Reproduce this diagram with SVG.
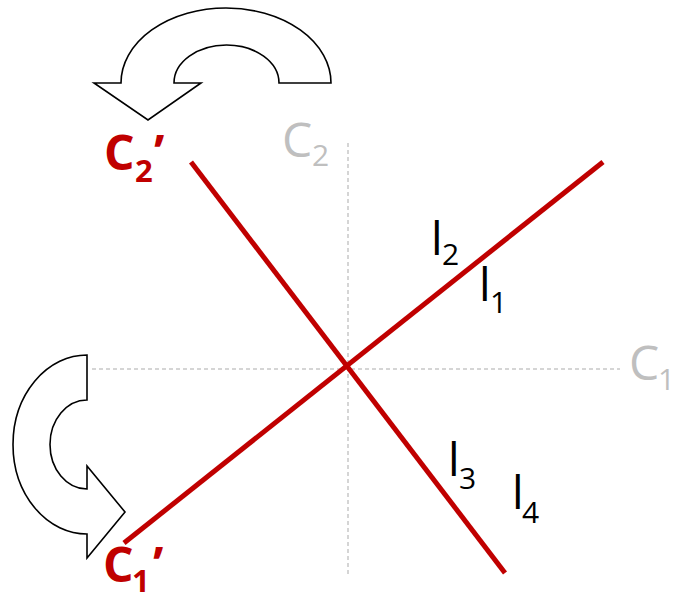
<svg xmlns="http://www.w3.org/2000/svg" width="673" height="593" viewBox="0 0 673 593">
<style>
.axis{stroke:#c8c8c8;stroke-width:1.5;stroke-dasharray:4 3;fill:none}
.red{stroke:#c00000;stroke-width:5;fill:none}
.arrow{fill:#fff;stroke:#000;stroke-width:1.6;stroke-linejoin:miter}
.g{fill:#bfbfbf;font-family:"Open Sans","Liberation Sans",sans-serif}
.r{fill:#c00000;font-family:"Open Sans","Liberation Sans",sans-serif;font-weight:bold}
.k{fill:#000;font-family:"Open Sans","Liberation Sans",sans-serif}
</style>
<rect width="673" height="593" fill="#fff"/>
<g id="axes">
<line class="axis" x1="348" y1="143" x2="348" y2="577"/>
<line class="axis" x1="92" y1="369" x2="620" y2="369"/>
</g>
<g id="connectors">
<line class="red" x1="124" y1="543" x2="603" y2="162"/>
<line class="red" x1="191" y1="162" x2="505" y2="573"/>
</g>
<g id="rotate-top">
<path class="arrow" d="M 331,83 A 105,75 0 0 0 121,83 L 94,83 L 148,120 L 201,83 L 174,83 A 52.5,38 0 0 1 279,83 Z"/>
</g>
<g id="rotate-left">
<path class="arrow" d="M 87,355 A 74,89.5 0 0 0 87,534 L 87,558 L 125,512 L 87,466 L 87,489 A 37,44.5 0 0 1 87,400 Z"/>
</g>
<g id="label-C2">
<text class="g" x="282" y="157" font-size="48">C</text>
<text class="g" x="312" y="166" font-size="30">2</text>
</g>
<g id="label-C1">
<text class="g" x="629" y="380" font-size="48">C</text>
<text class="g" x="658" y="390" font-size="30">1</text>
</g>
<g id="label-C2p">
<text class="r" x="104" y="170" font-size="48">C</text>
<text class="r" x="135" y="182" font-size="31">2</text>
<text class="r" x="154" y="170" font-size="48">’</text>
</g>
<g id="label-C1p">
<text class="r" x="103" y="582" font-size="48">C</text>
<text class="r" x="132" y="592" font-size="31">1</text>
<text class="r" x="153" y="582" font-size="48">’</text>
</g>
<g id="label-l2">
<text class="k" x="431" y="255" font-size="46">l</text>
<text class="k" x="442" y="265" font-size="30">2</text>
</g>
<g id="label-l1">
<text class="k" x="479" y="301" font-size="46">l</text>
<text class="k" x="490" y="313" font-size="30">1</text>
</g>
<g id="label-l3">
<text class="k" x="448" y="476" font-size="46">l</text>
<text class="k" x="459" y="489" font-size="30">3</text>
</g>
<g id="label-l4">
<text class="k" x="512" y="509" font-size="46">l</text>
<text class="k" x="522" y="523" font-size="30">4</text>
</g>
</svg>
